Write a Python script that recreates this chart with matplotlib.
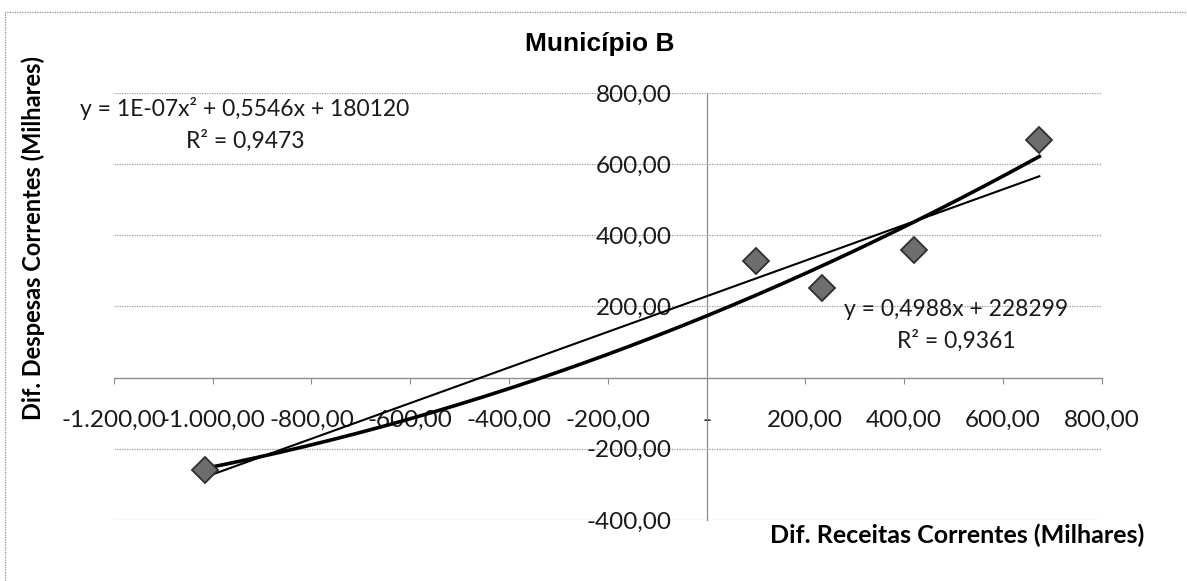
import matplotlib.pyplot as plt
import numpy as np
from matplotlib.patches import Rectangle
from matplotlib.ticker import FuncFormatter, MultipleLocator

# Dif. Receitas / Despesas Correntes (milhares)
receitas = np.array([-1015.0, 100.0, 233.0, 421.0, 674.0])
despesas = np.array([-260.0, 328.0, 253.0, 360.0, 669.0])

eq_poly = "y = 1E-07x² + 0,5546x + 180120\nR² = 0,9473"
eq_lin = "y = 0,4988x + 228299\nR² = 0,9361"


def br_fmt(v, pos=None):
    if abs(v) < 1e-9:
        return "-"
    s = f"{v:,.2f}"
    return s.replace(",", "X").replace(".", ",").replace("X", ".")


def br_fmt_y(v, pos=None):
    if abs(v) < 1e-9:
        return ""
    return br_fmt(v)


plt.rcParams["font.family"] = ["Lato", "DejaVu Sans"]

fig = plt.figure(figsize=(11.87, 5.81), dpi=100)
ax = fig.add_axes([0.096, 0.105, 0.832, 0.735])

ax.set_xlim(-1200, 800)
ax.set_ylim(-400, 800)

# eixos cruzando na origem, estilo Excel
for s in ["top", "right"]:
    ax.spines[s].set_visible(False)
ax.spines["left"].set_position(("data", 0))
ax.spines["bottom"].set_position(("data", 0))
for s in ["left", "bottom"]:
    ax.spines[s].set_color("#8c8c8c")
    ax.spines[s].set_linestyle((0, (1, 1)))
    ax.spines[s].set_linewidth(0.9)

ax.xaxis.set_major_locator(MultipleLocator(200))
ax.yaxis.set_major_locator(MultipleLocator(200))
ax.xaxis.set_major_formatter(FuncFormatter(br_fmt))
ax.yaxis.set_major_formatter(FuncFormatter(br_fmt_y))
ax.tick_params(axis="x", length=4, color="#8c8c8c", pad=19, labelsize=17.5, labelcolor="#1a1a1a")
ax.tick_params(axis="y", length=0, pad=25, labelsize=17.5, labelcolor="#1a1a1a")

ax.grid(axis="y", color="#9a9a9a", linestyle=(0, (1, 1)), linewidth=0.9)
ax.set_axisbelow(True)

# linhas de tendencia
xs = np.linspace(receitas.min(), receitas.max(), 200)
p2 = np.polyfit(receitas, despesas, 2)
p1 = np.polyfit(receitas, despesas, 1)
ax.plot(xs, np.polyval(p2, xs), color="black", lw=2.6, zorder=3)
ax.plot(xs, np.polyval(p1, xs), color="black", lw=1.5, zorder=3)

ax.plot(receitas, despesas, "D", ms=13, mfc="#6e6e6e", mec="#2e2e2e", mew=1.3, zorder=4)

ax.text(-935, 712, eq_poly, ha="center", va="center", fontsize=16.5,
        color="#1a1a1a", linespacing=1.55)
ax.text(505, 147, eq_lin, ha="center", va="center", fontsize=16.5,
        color="#1a1a1a", linespacing=1.55)

fig.text(0.505, 0.925, "Município B", ha="center", va="center", fontsize=19,
         fontweight="bold", family=["Liberation Sans", "DejaVu Sans"])
fig.text(0.028, 0.59, "Dif. Despesas Correntes (Milhares)", rotation=90,
         ha="center", va="center", fontsize=17, fontweight="bold")
fig.text(0.964, 0.079, "Dif. Receitas Correntes (Milhares)", ha="right",
         va="center", fontsize=18, fontweight="bold")

# borda da area do grafico
fig.patches.append(Rectangle((0.004, -0.05), 1.1, 1.03, transform=fig.transFigure,
                             fill=False, edgecolor="#8c8c8c", linestyle=(0, (1, 1)),
                             linewidth=0.9))

fig.savefig("out.png", dpi=100)
